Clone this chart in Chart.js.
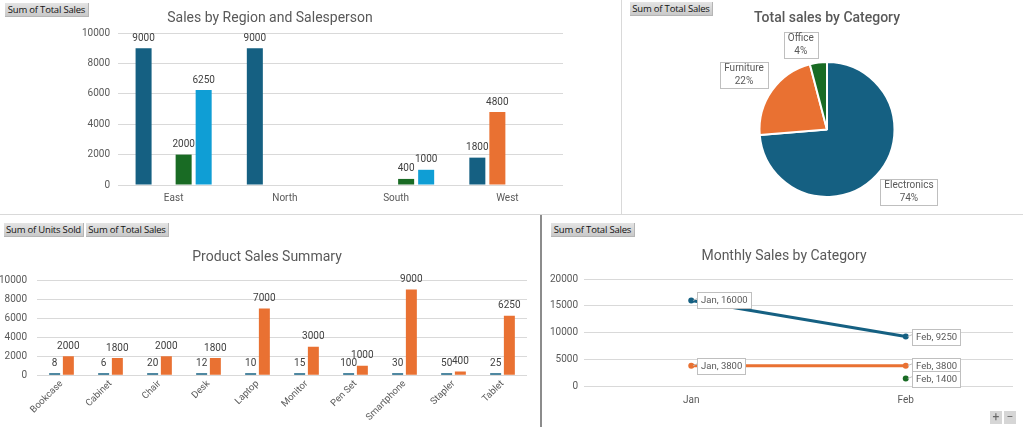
<!DOCTYPE html>
<html lang="en">
<head>
<meta charset="UTF-8">
<title>Sales Dashboard</title>
<script src="https://cdn.jsdelivr.net/npm/chart.js"></script>
<style>
  body { margin: 0; width: 1023px; height: 427px; overflow: hidden; background: #fff; position: relative; font-family: Roboto, "Noto Sans", sans-serif; }
  .box { position: absolute; }
  .field { position: absolute; height: 13px; line-height: 13px; font-size: 9.5px; color: #111; text-align: center;
           background: linear-gradient(#e4e4e4, #c9c9c9); border-right: 1px solid #b5b5b5; border-bottom: 1px solid #b5b5b5; white-space: nowrap; font-family: "Open Sans", sans-serif; letter-spacing: -0.2px; }
  .line { position: absolute; background: #d9d9d9; }
  .zoom { position: absolute; width: 12px; height: 13px; background: #d6d6d6; color: #666; font-size: 12px; line-height: 12px; text-align: center; }
</style>
</head>
<body>
<div class="line" style="left:621px; top:0; width:1px; height:214px;"></div>
<div class="line" style="left:0; top:214px; width:1023px; height:1px;"></div>
<div class="line" style="left:540px; top:215px; width:2px; height:212px; background:#8c8c8c;"></div>

<canvas class="box" id="regionChart" width="620" height="212" style="left:0; top:0;"></canvas>
<canvas class="box" id="categoryChart" width="401" height="212" style="left:622px; top:0;"></canvas>
<canvas class="box" id="productChart" width="540" height="211" style="left:0; top:216px;"></canvas>
<canvas class="box" id="monthlyChart" width="480" height="211" style="left:543px; top:216px;"></canvas>

<div class="field" style="left:5px; top:3px; width:83px;">Sum of Total Sales</div>
<div class="field" style="left:630px; top:2px; width:82px;">Sum of Total Sales</div>
<div class="field" style="left:4px; top:223px; width:79px;">Sum of Units Sold</div>
<div class="field" style="left:86px; top:223px; width:82px;">Sum of Total Sales</div>
<div class="field" style="left:551px; top:223px; width:83px;">Sum of Total Sales</div>
<div class="zoom" style="left:990px; top:411px;">+</div>
<div class="zoom" style="left:1004px; top:411px;">&minus;</div>

<script>
  // Sales by region and salesperson
  const regions = ['East', 'North', 'South', 'West'];
  const salespeople = ['Salesperson A', 'Salesperson B', 'Salesperson C', 'Salesperson D'];
  const repA = [9000, 9000, null, 1800];
  const repB = [null, null, null, 4800];
  const repC = [2000, null, 400, null];
  const repD = [6250, null, 1000, null];

  // Total sales by category
  const categories = ['Electronics', 'Furniture', 'Office'];
  const categorySales = [25250, 7600, 1400];

  // Product summary
  const products = ['Bookcase', 'Cabinet', 'Chair', 'Desk', 'Laptop', 'Monitor', 'Pen Set', 'Smartphone', 'Stapler', 'Tablet'];
  const unitsSold = [8, 6, 20, 12, 10, 15, 100, 30, 50, 25];
  const productSales = [2000, 1800, 2000, 1800, 7000, 3000, 1000, 9000, 400, 6250];

  // Monthly sales by category
  const months = ['Jan', 'Feb'];
  const electronicsMonthly = [16000, 9250];
  const furnitureMonthly = [3800, 3800];
  const officeMonthly = [null, 1400];

  const blue = '#156082', orange = '#E97132', green = '#196B24', lightBlue = '#0F9ED5';
  const grey = '#595959', gridGrey = '#d9d9d9';

  Chart.defaults.font.family = 'Roboto, "Noto Sans", sans-serif';
  Chart.defaults.color = grey;

  const plainTick = v => String(v);

  // chart title placed where Excel puts it
  const titleAt = {
    id: 'titleAt',
    afterDraw(chart, args, opts) {
      const ctx = chart.ctx;
      ctx.save();
      ctx.font = opts.font;
      ctx.fillStyle = grey;
      ctx.textAlign = 'center';
      ctx.textBaseline = 'middle';
      ctx.fillText(opts.text, opts.x, opts.y);
      ctx.restore();
    }
  };

  // value labels on top of bars
  const barLabels = {
    id: 'barLabels',
    afterDatasetsDraw(chart) {
      const ctx = chart.ctx;
      ctx.save();
      ctx.font = '10px Roboto';
      ctx.fillStyle = '#404040';
      ctx.textAlign = 'center';
      ctx.textBaseline = 'bottom';
      chart.data.datasets.forEach((ds, i) => {
        chart.getDatasetMeta(i).data.forEach((bar, j) => {
          if (ds.data[j] == null) return;
          ctx.fillText(ds.data[j], bar.x, bar.y - 5);
        });
      });
      ctx.restore();
    }
  };

  // boxed callouts for the pie
  const pieCallouts = {
    id: 'pieCallouts',
    afterDatasetsDraw(chart) {
      const ctx = chart.ctx;
      const vals = chart.data.datasets[0].data;
      const total = vals.reduce((a, b) => a + b, 0);
      ctx.save();
      ctx.font = '10px Roboto';
      ctx.textAlign = 'center';
      ctx.textBaseline = 'middle';
      chart.getDatasetMeta(0).data.forEach((arc, i) => {
        const p = arc.getProps(['x', 'y', 'startAngle', 'endAngle', 'outerRadius'], true);
        const mid = (p.startAngle + p.endAngle) / 2;
        const dx = Math.cos(mid), dy = Math.sin(mid);
        const lines = [chart.data.labels[i], Math.round(vals[i] / total * 100) + '%'];
        const w = Math.max(...lines.map(t => ctx.measureText(t).width)) + 8;
        const h = 26;
        const r = p.outerRadius + 5;
        const cx = p.x + dx * r + Math.sign(dx) * w / 2;
        const cy = p.y + dy * r + Math.sign(dy) * h / 2;
        ctx.fillStyle = '#fff';
        ctx.strokeStyle = '#bfbfbf';
        ctx.lineWidth = 1;
        ctx.fillRect(cx - w / 2, cy - h / 2, w, h);
        ctx.strokeRect(Math.round(cx - w / 2) + 0.5, Math.round(cy - h / 2) + 0.5, Math.round(w), h);
        ctx.fillStyle = grey;
        ctx.fillText(lines[0], cx, cy - 6);
        ctx.fillText(lines[1], cx, cy + 7);
      });
      ctx.restore();
    }
  };

  // boxed "Month, value" callouts for the line chart
  const lineCallouts = {
    id: 'lineCallouts',
    afterDatasetsDraw(chart) {
      const ctx = chart.ctx;
      ctx.save();
      ctx.font = '9.5px Roboto';
      ctx.textAlign = 'left';
      ctx.textBaseline = 'middle';
      chart.data.datasets.forEach((ds, i) => {
        chart.getDatasetMeta(i).data.forEach((pt, j) => {
          if (ds.data[j] == null) return;
          const text = chart.data.labels[j] + ', ' + ds.data[j];
          const w = Math.round(ctx.measureText(text).width + 7), h = 16;
          const left = Math.round(pt.x + 6) + 0.5, top = Math.round(pt.y - h / 2) + 0.5;
          ctx.strokeStyle = '#bfbfbf';
          ctx.lineWidth = 1;
          ctx.beginPath();
          ctx.moveTo(pt.x + 2, pt.y);
          ctx.lineTo(left, pt.y - 2);
          ctx.stroke();
          ctx.fillStyle = '#fff';
          ctx.fillRect(left, top, w, h);
          ctx.strokeRect(left, top, w, h);
          ctx.fillStyle = grey;
          ctx.fillText(text, left + 3.5, top + h / 2 + 0.5);
        });
      });
      ctx.restore();
    }
  };

  new Chart(document.getElementById('regionChart'), {
    type: 'bar',
    data: {
      labels: regions,
      datasets: [
        { label: salespeople[0], data: repA, backgroundColor: blue },
        { label: salespeople[1], data: repB, backgroundColor: orange },
        { label: salespeople[2], data: repC, backgroundColor: green },
        { label: salespeople[3], data: repD, backgroundColor: lightBlue }
      ]
    },
    options: {
      responsive: false,
      animation: false,
      layout: { padding: { top: 33, left: 70, right: 57, bottom: 1 } },
      datasets: { bar: { categoryPercentage: 0.72, barPercentage: 0.8 } },
      plugins: {
        legend: { display: false },
        tooltip: { enabled: false },
        titleAt: { text: 'Sales by Region and Salesperson', x: 270, y: 18, font: '14px Roboto' }
      },
      scales: {
        x: { grid: { display: false, drawTicks: false }, border: { display: false },
             ticks: { font: { size: 10 }, padding: 7, color: grey } },
        y: { min: 0, max: 10000, border: { display: false },
             grid: { color: gridGrey, drawTicks: false },
             ticks: { stepSize: 2000, font: { size: 10 }, padding: 8, color: grey, callback: plainTick },
             afterFit(s) { s.width = 48; } }
      }
    },
    plugins: [barLabels, titleAt]
  });

  new Chart(document.getElementById('categoryChart'), {
    type: 'pie',
    data: {
      labels: categories,
      datasets: [{ data: categorySales, backgroundColor: [blue, orange, green], borderColor: '#fff', borderWidth: 2 }]
    },
    options: {
      responsive: false,
      animation: false,
      layout: { padding: { top: 61, left: 9, right: 0, bottom: 14 } },
      plugins: {
        legend: { display: false },
        tooltip: { enabled: false },
        titleAt: { text: 'Total sales by Category', x: 205, y: 18, font: '500 14px Roboto' }
      }
    },
    plugins: [pieCallouts, titleAt]
  });

  new Chart(document.getElementById('productChart'), {
    type: 'bar',
    data: {
      labels: products,
      datasets: [
        { label: 'Sum of Units Sold', data: unitsSold, backgroundColor: blue, minBarLength: 2 },
        { label: 'Sum of Total Sales', data: productSales, backgroundColor: orange }
      ]
    },
    options: {
      responsive: false,
      animation: false,
      layout: { padding: { top: 64, left: 0, right: 13, bottom: 1 } },
      datasets: { bar: { categoryPercentage: 0.56, barPercentage: 0.8 } },
      plugins: {
        legend: { display: false },
        tooltip: { enabled: false },
        titleAt: { text: 'Product Sales Summary', x: 267, y: 41, font: '14px Roboto' }
      },
      scales: {
        x: { grid: { display: false, drawTicks: false }, border: { display: false },
             ticks: { font: { size: 9.5 }, padding: 3, color: grey, autoSkip: false, maxRotation: 45, minRotation: 45 } },
        y: { min: 0, max: 10000, border: { display: false },
             grid: { color: gridGrey, drawTicks: false },
             ticks: { stepSize: 2000, font: { size: 10 }, padding: 10, color: grey, callback: plainTick },
             afterFit(s) { s.width = 37; } }
      }
    },
    plugins: [barLabels, titleAt]
  });

  new Chart(document.getElementById('monthlyChart'), {
    type: 'line',
    data: {
      labels: months,
      datasets: [
        { label: 'Electronics', data: electronicsMonthly, borderColor: blue, backgroundColor: blue },
        { label: 'Furniture', data: furnitureMonthly, borderColor: orange, backgroundColor: orange },
        { label: 'Office', data: officeMonthly, borderColor: green, backgroundColor: green }
      ]
    },
    options: {
      responsive: false,
      animation: false,
      layout: { padding: { top: 63, left: 6, right: 10, bottom: 13 } },
      elements: { line: { borderWidth: 3, tension: 0 }, point: { radius: 3, borderWidth: 0 } },
      plugins: {
        legend: { display: false },
        tooltip: { enabled: false },
        titleAt: { text: 'Monthly Sales by Category', x: 241, y: 40, font: '14px Roboto' }
      },
      scales: {
        x: { offset: true, grid: { display: false, drawTicks: false }, border: { display: false },
             ticks: { font: { size: 10 }, padding: 8, color: grey } },
        y: { min: 0, max: 20000, border: { display: false },
             grid: { color: gridGrey, drawTicks: false },
             ticks: { stepSize: 5000, font: { size: 10 }, padding: 6, color: grey, callback: plainTick },
             afterFit(s) { s.width = 35; } }
      }
    },
    plugins: [lineCallouts, titleAt]
  });
</script>
</body>
</html>
